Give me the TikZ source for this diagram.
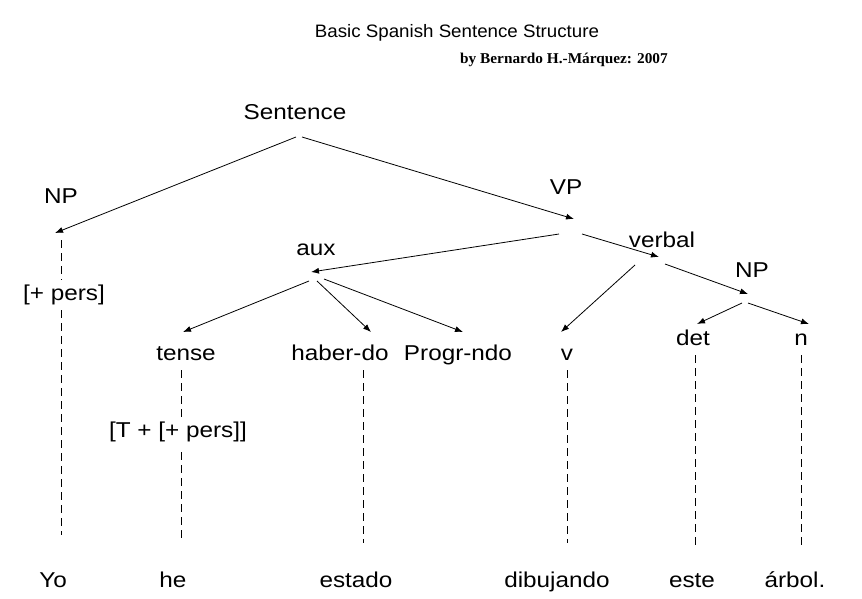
\documentclass[tikz,border=0pt]{standalone}
\usepackage{fontspec}
\setmainfont{Liberation Sans}
\newfontfamily\byfont{Liberation Serif}
\usetikzlibrary{arrows.meta}
\begin{document}
\begin{tikzpicture}[x=1pt,y=-1pt,
  lbl/.style={inner sep=0pt,anchor=base,xscale=1.13,font=\fontsize{21.5}{26}\selectfont},
  arr/.style={line width=0.8pt,-{Latex[length=8pt,width=6pt]}},
  dsh/.style={line width=0.8pt,dash pattern=on 8pt off 5pt}]
\useasboundingbox (0,0) rectangle (862,598);
\fill[white] (0,0) rectangle (862,598);
% titles
\node[inner sep=0pt,anchor=base,xscale=1.04,font=\fontsize{18}{20}\selectfont] (title) at (457,37) {Basic Spanish Sentence Structure};
\node[inner sep=0pt,anchor=base,xscale=1.02,font=\byfont\bfseries\fontsize{15}{17}\selectfont] (by) at (564,63) {by Bernardo H.-Márquez: 2007};
% labels
\node[lbl] (S) at (295,119) {Sentence};
\node[lbl] (NP1) at (61,203) {NP};
\node[lbl] (VP) at (566,194) {VP};
\node[lbl] (aux) at (316,255) {aux};
\node[lbl] (verbal) at (662,247) {verbal};
\node[lbl] (NP2) at (752,277) {NP};
\node[lbl] (pers) at (64,300) {[+ pers]};
\node[lbl] (tense) at (186,360) {tense};
\node[lbl] (haber) at (340,360) {haber-do};
\node[lbl] (progr) at (458,360) {Progr-ndo};
\node[lbl] (v) at (567,360) {v};
\node[lbl] (det) at (693,345) {det};
\node[lbl] (n) at (801,345) {n};
\node[lbl] (T) at (178,437) {[T + [+ pers]]};
\node[lbl] (Yo) at (53,587) {Yo};
\node[lbl] (he) at (173,587) {he};
\node[lbl] (estado) at (356,587) {estado};
\node[lbl] (dib) at (557,587) {dibujando};
\node[lbl] (este) at (692,587) {este};
\node[lbl] (arbol) at (795,587) {árbol.};
% connector end points
\coordinate (Sl) at (296,137);
\coordinate (Sr) at (302,137);
\coordinate (NP1t) at (55,233);
\coordinate (VPt) at (574,219);
\coordinate (VPl) at (559,234);
\coordinate (VPr) at (582,234);
\coordinate (auxt) at (311,272);
\coordinate (auxl) at (309,281);
\coordinate (auxm) at (317,281);
\coordinate (auxr) at (324,279);
\coordinate (verbalt) at (659,257);
\coordinate (verball) at (635,265);
\coordinate (verbalr) at (665,264);
\coordinate (NP2t) at (748,294);
\coordinate (NP2l) at (742,303);
\coordinate (NP2r) at (748,303);
\coordinate (tenset) at (183,332);
\coordinate (habert) at (371,332);
\coordinate (progrt) at (463,332);
\coordinate (vt) at (561,332);
\coordinate (dett) at (697,324);
\coordinate (nt) at (809,324);
% arrows
\draw[arr] (Sl) -- (NP1t);
\draw[arr] (Sr) -- (VPt);
\draw[arr] (VPl) -- (auxt);
\draw[arr] (VPr) -- (verbalt);
\draw[arr] (auxl) -- (tenset);
\draw[arr] (auxm) -- (habert);
\draw[arr] (auxr) -- (progrt);
\draw[arr] (verball) -- (vt);
\draw[arr] (verbalr) -- (NP2t);
\draw[arr] (NP2l) -- (dett);
\draw[arr] (NP2r) -- (nt);
% dashed lines
\coordinate (a1) at (61,240); \coordinate (a2) at (61,280);
\coordinate (a3) at (61,310); \coordinate (a4) at (61,535);
\draw[dsh] (a1) -- (a2);
\draw[dsh] (a3) -- (a4);
\coordinate (b1) at (181,370); \coordinate (b2) at (181,418);
\coordinate (b3) at (181,452); \coordinate (b4) at (181,540);
\draw[dsh] (b1) -- (b2);
\draw[dsh] (b3) -- (b4);
\coordinate (c1) at (363,370); \coordinate (c2) at (363,543);
\draw[dsh] (c1) -- (c2);
\coordinate (d1) at (567,370); \coordinate (d2) at (567,543);
\draw[dsh] (d1) -- (d2);
\coordinate (e1) at (695,355); \coordinate (e2) at (695,545);
\draw[dsh] (e1) -- (e2);
\coordinate (f1) at (801,355); \coordinate (f2) at (801,545);
\draw[dsh] (f1) -- (f2);
\end{tikzpicture}
\end{document}
